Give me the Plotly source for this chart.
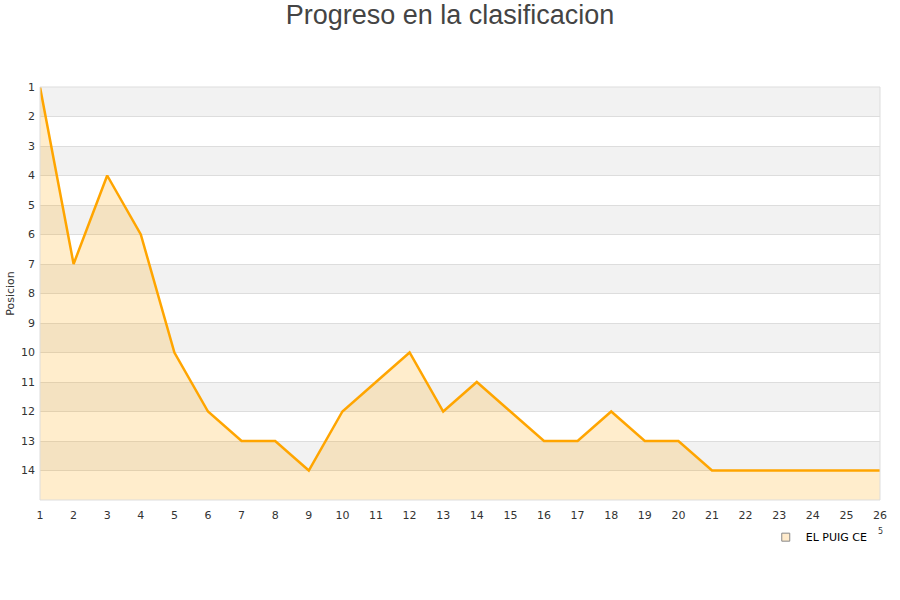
import plotly.graph_objects as go

jornadas = list(range(1, 27))
posiciones = [1, 7, 4, 6, 10, 12, 13, 13, 14, 12, 11, 10, 12, 11, 12, 13, 13, 12, 13, 13, 14, 14, 14, 14, 14, 14]
equipo = "EL PUIG CE"
y_ticks = list(range(1, 15))
y_bottom = 15

fig = go.Figure()

# baseline for the fill
fig.add_trace(go.Scatter(x=jornadas, y=[y_bottom] * len(jornadas), mode="lines",
                         line=dict(width=0, color="rgba(0,0,0,0)"), showlegend=False, hoverinfo="skip"))
fig.add_trace(go.Scatter(x=jornadas, y=posiciones, mode="lines", fill="tonexty",
                         fillcolor="rgba(255,165,0,0.2)", line=dict(color="#FFA500", width=2.5),
                         showlegend=False))
# legend entry
fig.add_trace(go.Scatter(x=[None], y=[None], mode="markers", name=equipo,
                         marker=dict(symbol="square", size=8, color="#FFEBCC",
                                     line=dict(color="#888", width=1))))

shapes = []
for k in range(1, 15, 2):
    shapes.append(dict(type="rect", xref="paper", yref="y", x0=0, x1=1, y0=k, y1=k + 1,
                       fillcolor="#F2F2F2", line=dict(width=0), layer="below"))
shapes.append(dict(type="rect", xref="paper", yref="paper", x0=0, x1=1, y0=0, y1=1,
                   line=dict(color="#DDDDDD", width=1), layer="above"))

fig.update_layout(
    width=900, height=600,
    margin=dict(l=40, r=20, t=87, b=100, autoexpand=False),
    paper_bgcolor="white", plot_bgcolor="white",
    title=dict(text="Progreso en la clasificacion", x=0.5, xanchor="center", y=0.975, yanchor="middle",
               font=dict(family="Liberation Sans, Arial", size=27, color="#444")),
    font=dict(family="DejaVu Sans", size=11, color="#333"),
    shapes=shapes,
    showlegend=True,
    legend=dict(x=0.864, y=-0.09, xanchor="left", yanchor="middle", bgcolor="rgba(0,0,0,0)",
                font=dict(size=11, color="#000"), itemwidth=30),
    xaxis=dict(range=[1, 26], tickmode="array", tickvals=jornadas, ticktext=[str(j) for j in jornadas],
               showgrid=False, zeroline=False, showline=False, ticks="", ticklen=0,
               ticklabelstandoff=7, tickfont=dict(size=11, color="#333")),
    yaxis=dict(range=[y_bottom, 1], tickmode="array", tickvals=y_ticks, ticktext=[str(t) for t in y_ticks],
               showgrid=True, gridcolor="#DDDDDD", gridwidth=1, zeroline=False, showline=False,
               ticks="", ticklabelstandoff=4, tickfont=dict(size=11, color="#333"),
               title=dict(text="Posicion", font=dict(size=11, color="#333"), standoff=4)),
)

fig.add_annotation(text="5", xref="paper", yref="paper", x=(880 - 40) / 840, y=(500 - 531) / 413,
                   xanchor="center", yanchor="middle",
                   showarrow=False, font=dict(size=8, color="#333"))

fig.write_html("out.html", config={"displayModeBar": False},
               post_script="document.body.style.margin='0';")
